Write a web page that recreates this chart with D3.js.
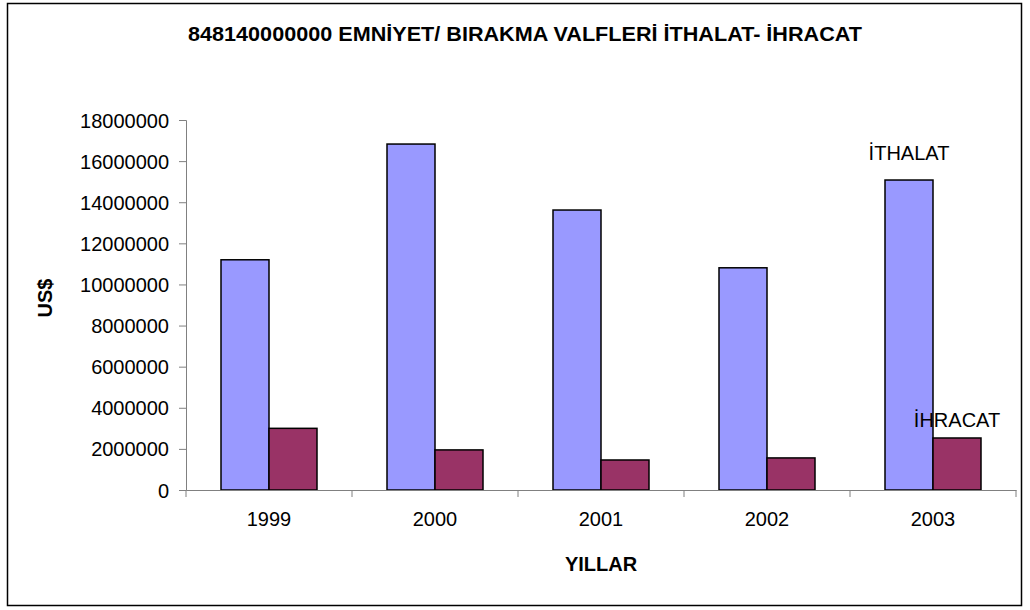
<!DOCTYPE html>
<html>
<head>
<meta charset="utf-8">
<script src="https://cdn.jsdelivr.net/npm/d3@7"></script>
<style>
  body { margin: 0; background: #fff; }
  svg text { font-family: "Liberation Sans", Arial, sans-serif; fill: #000; }
</style>
</head>
<body>
<div id="chart"></div>
<script>
// data
var years = ["1999", "2000", "2001", "2002", "2003"];
var ithalat = [11200000, 16830000, 13620000, 10810000, 15080000];
var ihracat = [3000000, 1950000, 1460000, 1560000, 2530000];
var yTicks = [0, 2000000, 4000000, 6000000, 8000000, 10000000, 12000000, 14000000, 16000000, 18000000];
var seriesNames = ["İTHALAT", "İHRACAT"];
var colors = ["#9999FF", "#993366"];

var width = 1030, height = 610;

var svg = d3.select("#chart").append("svg")
    .attr("width", width)
    .attr("height", height);

// outer frame
svg.append("rect")
    .attr("x", 7.5).attr("y", 3.5)
    .attr("width", 1014).attr("height", 602)
    .attr("fill", "none")
    .attr("stroke", "#000")
    .attr("stroke-width", 1.5);

var x = d3.scaleBand().domain(years).range([186, 1016]);
var y = d3.scaleLinear().domain([0, 18000000]).range([490, 120]);

var barW = 48;
var inner = d3.scaleBand().domain([0, 1]).range([0, barW * 2]);
var groupOffset = (x.bandwidth() - barW * 2) / 2;

var series = [ithalat, ihracat];

series.forEach(function (vals, si) {
    svg.append("g").selectAll("rect")
        .data(vals)
        .enter().append("rect")
        .attr("x", function (d, i) { return x(years[i]) + groupOffset + inner(si); })
        .attr("y", function (d) { return y(d); })
        .attr("width", inner.bandwidth())
        .attr("height", function (d) { return y(0) - y(d); })
        .attr("fill", colors[si])
        .attr("stroke", "#000")
        .attr("stroke-width", 1.5);
});

// y axis
var yAxis = svg.append("g")
    .attr("transform", "translate(186,0)")
    .call(d3.axisLeft(y).tickValues(yTicks).tickSize(7).tickPadding(10).tickFormat(d3.format("d")));
yAxis.selectAll("text").style("font-size", "20px").attr("dy", "0.35em");
yAxis.selectAll("line, path").attr("stroke", "#808080");

// x axis with ticks on band edges
var xAxis = svg.append("g")
    .attr("transform", "translate(0,490)")
    .call(d3.axisBottom(x).tickSize(0).tickPadding(22));
xAxis.selectAll("text").style("font-size", "20px");
xAxis.select(".domain").attr("stroke", "#808080");
xAxis.selectAll(".edge")
    .data(years.concat(["end"]))
    .enter().append("line")
    .attr("x1", function (d, i) { return i < years.length ? x(d) : x.range()[1]; })
    .attr("x2", function (d, i) { return i < years.length ? x(d) : x.range()[1]; })
    .attr("y1", 0).attr("y2", 7)
    .attr("stroke", "#808080");

// series labels on the last category
var last = years.length - 1;
svg.append("text")
    .attr("x", x(years[last]) + groupOffset + inner(0) + barW / 2)
    .attr("y", y(ithalat[last]) - 20)
    .attr("text-anchor", "middle")
    .style("font-size", "20px")
    .text(seriesNames[0]);
svg.append("text")
    .attr("x", x(years[last]) + groupOffset + inner(1) + barW / 2)
    .attr("y", y(ihracat[last]) - 11)
    .attr("text-anchor", "middle")
    .style("font-size", "20px")
    .text(seriesNames[1]);

// title
svg.append("text")
    .attr("x", 525).attr("y", 41)
    .attr("text-anchor", "middle")
    .style("font-size", "20px")
    .style("font-weight", "bold")
    .attr("textLength", 674)
    .attr("lengthAdjust", "spacingAndGlyphs")
    .text("848140000000 EMNİYET/ BIRAKMA VALFLERİ İTHALAT- İHRACAT");

// axis titles
svg.append("text")
    .attr("transform", "translate(52,298) rotate(-90)")
    .attr("text-anchor", "middle")
    .style("font-size", "20px")
    .style("font-weight", "bold")
    .text("US$");

svg.append("text")
    .attr("x", 601).attr("y", 571)
    .attr("text-anchor", "middle")
    .style("font-size", "20px")
    .style("font-weight", "bold")
    .text("YILLAR");
</script>
</body>
</html>
